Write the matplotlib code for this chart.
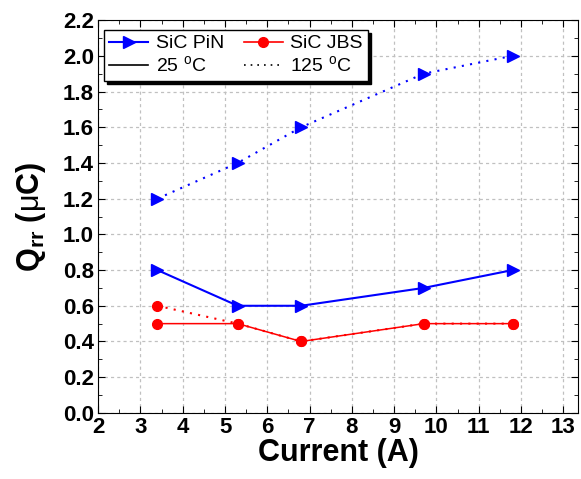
import matplotlib
matplotlib.use("Agg")
import matplotlib.pyplot as plt
from matplotlib.lines import Line2D
from matplotlib.ticker import MultipleLocator

plt.rcParams['font.family'] = ['Liberation Sans', 'DejaVu Sans']
plt.rcParams['mathtext.fontset'] = 'custom'
plt.rcParams['mathtext.rm'] = 'Liberation Sans'
plt.rcParams['mathtext.bf'] = 'Liberation Sans:bold'

# data
current = [3.4, 5.3, 6.8, 9.7, 11.8]
pin_25 = [0.8, 0.6, 0.6, 0.7, 0.8]
pin_125 = [1.2, 1.4, 1.6, 1.9, 2.0]
jbs_25 = [0.5, 0.5, 0.4, 0.5, 0.5]
jbs_125 = [0.6, 0.5, 0.4, 0.5, 0.5]

dot = (0, (1, 3))

fig = plt.figure(figsize=(5.81, 4.79), dpi=100)
ax = fig.add_axes([0.169, 0.138, 0.826, 0.82])

ax.plot(current, jbs_125, ls=dot, color='red', marker='o', markersize=7, lw=1.5)
ax.plot(current, jbs_25, '-', color='red', marker='o', markersize=7, lw=1.1)
ax.plot(current, pin_125, ls=dot, color='blue', marker='>', markersize=9, lw=1.5)
ax.plot(current, pin_25, '-', color='blue', marker='>', markersize=9, lw=1.5)

ax.set_xlim(2, 13.35)
ax.set_ylim(0, 2.2)
ax.xaxis.set_major_locator(MultipleLocator(1))
ax.xaxis.set_minor_locator(MultipleLocator(0.5))
ax.yaxis.set_major_locator(MultipleLocator(0.2))
ax.yaxis.set_minor_locator(MultipleLocator(0.1))
ax.yaxis.set_major_formatter(matplotlib.ticker.FormatStrFormatter('%.1f'))
ax.grid(True, which='major', ls=(0, (2.5, 2.5)), color='#c0c0c0', lw=0.9)
ax.set_axisbelow(True)
ax.tick_params(which='both', direction='in', top=True, right=True)
ax.tick_params(which='major', length=5, labelsize=16, pad=3)
ax.tick_params(which='minor', length=3)
for lab in ax.get_xticklabels() + ax.get_yticklabels():
    lab.set_fontweight('bold')

ax.set_xlabel('Current (A)', fontsize=22, fontweight='bold', labelpad=0)
ax.set_ylabel(r'Q$_{\mathbf{rr}}$ ($\mathrm{\mu}$C)', fontsize=22, fontweight='bold', labelpad=11)

handles = [
    Line2D([], [], color='blue', marker='>', markersize=9, lw=1.5),
    Line2D([], [], color='black', lw=1.2),
    Line2D([], [], color='red', marker='o', markersize=7, lw=1.2),
    Line2D([], [], color='black', ls=dot, lw=1.2),
]
labels = ['SiC PiN', '25 $^{\\mathrm{o}}$C', 'SiC JBS', '125 $^{\\mathrm{o}}$C']
leg = ax.legend(handles, labels, ncol=2, loc='upper left', fontsize=14,
                bbox_to_anchor=(0.005, 0.985), fancybox=False, edgecolor='black',
                framealpha=1, shadow={'color': 'black', 'alpha': 1},
                handlelength=2.0, columnspacing=1.0, handletextpad=0.4,
                borderpad=0.25, labelspacing=0.15, borderaxespad=0.2)
leg.get_frame().set_linewidth(1.0)

fig.savefig('out.png', dpi=100)
